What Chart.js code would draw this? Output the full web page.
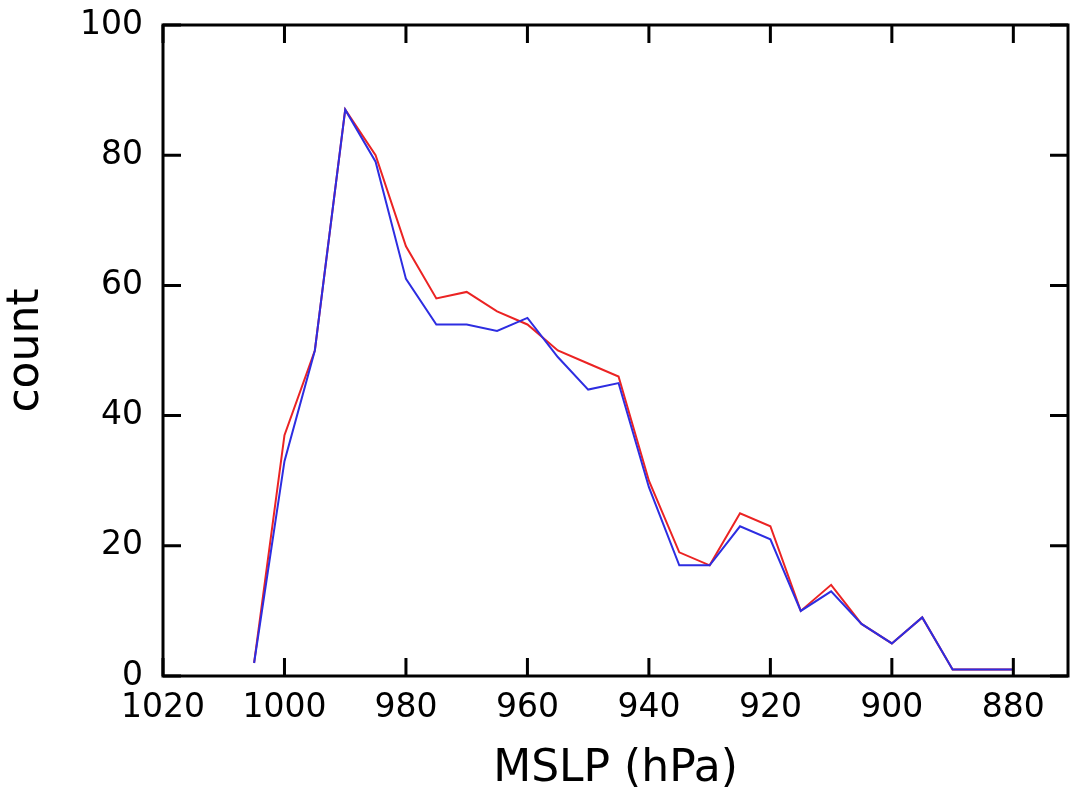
<!DOCTYPE html>
<html>
<head>
<meta charset="utf-8">
<script src="https://cdn.jsdelivr.net/npm/chart.js@4.4.0/dist/chart.umd.min.js"></script>
<style>
  html, body { margin: 0; padding: 0; background: #fff; }
  #wrap { width: 1070px; height: 796px; }
</style>
</head>
<body>
<div id="wrap"><canvas id="mslpChart"></canvas></div>
<script>
// pressure bins (hPa)
const pressures = [1005, 1000, 995, 990, 985, 980, 975, 970, 965, 960, 955, 950, 945,
  940, 935, 930, 925, 920, 915, 910, 905, 900, 895, 890, 885, 880];
const redCounts = [2, 37, 50, 87, 80, 66, 58, 59, 56, 54, 50, 48, 46,
  30, 19, 17, 25, 23, 10, 14, 8, 5, 9, 1, 1, 1];
const blueCounts = [2, 33, 50, 87, 79, 61, 54, 54, 53, 55, 49, 44, 45,
  29, 17, 17, 23, 21, 10, 13, 8, 5, 9, 1, 1, 1];
const xTicks = [1020, 1000, 980, 960, 940, 920, 900, 880];
const yTicks = [0, 20, 40, 60, 80, 100];

const FONT = "'DejaVu Sans', sans-serif";

function points(vals) {
  return pressures.map((p, i) => ({ x: p, y: vals[i] }));
}

// frame + inward ticks on all four sides
const frameTicks = {
  id: "frameTicks",
  afterDraw(chart) {
    const ctx = chart.ctx;
    const a = chart.chartArea;
    const xs = chart.scales.x, ys = chart.scales.y;
    const len = 18;
    ctx.save();
    ctx.strokeStyle = "#000";
    ctx.lineWidth = 3;
    ctx.strokeRect(a.left, a.top, a.right - a.left, a.bottom - a.top);
    ctx.beginPath();
    xTicks.forEach(v => {
      const px = xs.getPixelForValue(v);
      ctx.moveTo(px, a.bottom); ctx.lineTo(px, a.bottom - len);
      ctx.moveTo(px, a.top); ctx.lineTo(px, a.top + len);
    });
    yTicks.forEach(v => {
      const py = ys.getPixelForValue(v);
      ctx.moveTo(a.left, py); ctx.lineTo(a.left + len, py);
      ctx.moveTo(a.right, py); ctx.lineTo(a.right - len, py);
    });
    ctx.stroke();
    ctx.restore();
  }
};

new Chart(document.getElementById("mslpChart"), {
  type: "line",
  data: {
    datasets: [
      {
        label: "red",
        data: points(redCounts),
        borderColor: "rgb(235,35,35)",
        borderWidth: 2,
        pointRadius: 0,
        tension: 0,
        order: 2
      },
      {
        label: "blue",
        data: points(blueCounts),
        borderColor: "rgb(45,45,225)",
        borderWidth: 2,
        pointRadius: 0,
        tension: 0,
        order: 1
      }
    ]
  },
  options: {
    responsive: true,
    maintainAspectRatio: false,
    animation: false,
    layout: { padding: { top: 25, right: 2, left: 0, bottom: 0 } },
    plugins: {
      legend: { display: false },
      tooltip: { enabled: false }
    },
    scales: {
      x: {
        type: "linear",
        reverse: true,
        min: 871,
        max: 1020,
        afterBuildTicks: s => { s.ticks = xTicks.map(v => ({ value: v })); },
        afterFit: s => { s.height = 120; s.paddingLeft = 0; s.paddingRight = 0; },
        grid: { display: false, drawTicks: false },
        border: { display: false },
        ticks: {
          color: "#000",
          font: { family: FONT, size: 33 },
          padding: 13,
          maxRotation: 0,
          autoSkip: false,
          callback: v => String(v)
        },
        title: {
          display: true,
          text: "MSLP (hPa)",
          color: "#000",
          font: { family: FONT, size: 44 },
          padding: { top: 4, bottom: 0 }
        }
      },
      y: {
        min: 0,
        max: 100,
        afterBuildTicks: s => { s.ticks = yTicks.map(v => ({ value: v })); },
        afterFit: s => { s.width = 163; s.paddingTop = 0; s.paddingBottom = 0; },
        grid: { display: false, drawTicks: false },
        border: { display: false },
        ticks: {
          color: "#000",
          font: { family: FONT, size: 33 },
          padding: 20,
          callback: v => String(v)
        },
        title: {
          display: true,
          text: "count",
          color: "#000",
          font: { family: FONT, size: 44 },
          padding: { top: 0, bottom: 2 }
        }
      }
    }
  },
  plugins: [frameTicks]
});
</script>
</body>
</html>
